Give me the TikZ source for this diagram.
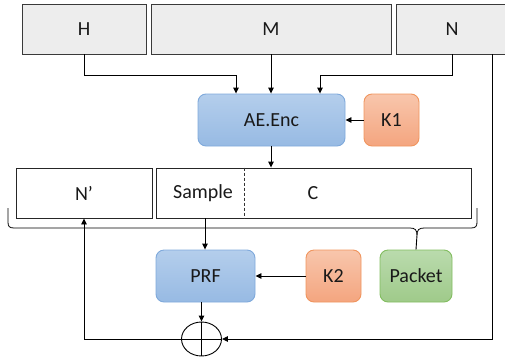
\documentclass[tikz,border=0pt]{standalone}
\usepackage{fontspec}
\setmainfont{Carlito}
\usetikzlibrary{arrows.meta,shapes.geometric}
\definecolor{greyfill}{HTML}{EDEDED}
\definecolor{greyline}{HTML}{3A3A3A}
\definecolor{bluetop}{HTML}{B4CEEC}
\definecolor{bluebot}{HTML}{97BAE3}
\definecolor{blueline}{HTML}{7FA9DB}
\definecolor{orgtop}{HTML}{F8C6AC}
\definecolor{orgbot}{HTML}{F4A57F}
\definecolor{orgline}{HTML}{F0955E}
\definecolor{grntop}{HTML}{BADBAD}
\definecolor{grnbot}{HTML}{9FCA8A}
\definecolor{grnline}{HTML}{82BD60}
\begin{document}
\begin{tikzpicture}[x=1pt,y=-1pt,
  every node/.style={font=\fontsize{20}{22}\selectfont, text=black!90, inner sep=0pt},
  greybox/.style={draw=greyline, fill=greyfill, line width=0.9pt, minimum height=50pt},
  whitebox/.style={draw=black!85, fill=white, line width=0.9pt, minimum height=50pt},
  bluebox/.style={draw=blueline, top color=bluetop, bottom color=bluebot, rounded corners=8pt, line width=0.9pt, minimum height=52pt},
  orgbox/.style={draw=orgline, top color=orgtop, bottom color=orgbot, rounded corners=8pt, line width=0.9pt, minimum height=52pt, minimum width=55pt},
  grnbox/.style={draw=grnline, top color=grntop, bottom color=grnbot, rounded corners=8pt, line width=0.9pt, minimum height=52pt, minimum width=72pt},
  conn/.style={draw=black, line width=0.9pt},
  arr/.style={conn, -{Triangle[length=6pt,width=5.5pt]}}]
\useasboundingbox (0,0) rectangle (505,362);
% top row
\node[greybox, minimum width=124pt] (H) at (84,29) {H};
\node[greybox, minimum width=240pt] (M) at (271,29) {M};
\node[greybox, minimum width=112pt] (N) at (452,29) {N};
% encryption
\node[bluebox, minimum width=147pt] (AE) at (271.5,120) {AE.Enc};
\node[orgbox] (K1) at (391.5,120) {K1};
% middle row
\node[whitebox, minimum width=136pt] (Np) at (84,193) {N’};
\node[whitebox, minimum width=315pt] (SC) at (313.5,193) {};
\node (S) at (203,193) {Sample};
\node (C) at (313,193) {C};
\draw[black!80, line width=0.8pt, dash pattern=on 3pt off 2pt] (SC.north -| 244,0) -- (SC.south -| 244,0);
% lower row
\node[bluebox, minimum width=99pt] (PRF) at (205.5,276) {PRF};
\node[orgbox] (K2) at (333.5,276) {K2};
\node[grnbox] (P) at (416,276) {Packet};
% xor
\node[draw=black, line width=0.9pt, ellipse, minimum width=40pt, minimum height=34pt] (X) at (201.5,339) {};
\draw[conn] (X.north) -- (X.south);
\draw[conn] (X.west) -- (X.east);
% connectors
\draw[arr] (H.south) -- ++(0,21) -| ([xshift=-35.5pt]AE.north);
\draw[arr] (M.south) -- (M.south |- AE.north);
\draw[arr] (N.south) -- ++(0,21) -| ([xshift=48.5pt]AE.north);
\draw[arr] (K1.west) -- (AE.east);
\draw[arr] (AE.south -| M.south) -- (M.south |- SC.north);
\draw[arr] (SC.south -| 205,0) -- (PRF.north -| 205,0);
\draw[arr] (K2.west) -- (PRF.east);
\draw[arr] (PRF.south -| X.north) -- (X.north);
\draw[arr] ([xshift=40pt]N.south) |- (X.east);
\draw[arr] (X.west) -| (Np.south);
% brace
\coordinate (BT) at (417,235);
\draw[conn, line width=0.8pt] (8,208) -- (8,222) .. controls (8,226) and (9,228) .. (14,228) -- (410,228) .. controls (415,228) and (417,230) .. (BT);
\draw[conn, line width=0.8pt] (477,208) -- (477,222) .. controls (477,226) and (476,228) .. (471,228) -- (424,228) .. controls (419,228) and (417,230) .. (BT);
\draw[conn] (BT) -- (P.north);
\end{tikzpicture}
\end{document}
